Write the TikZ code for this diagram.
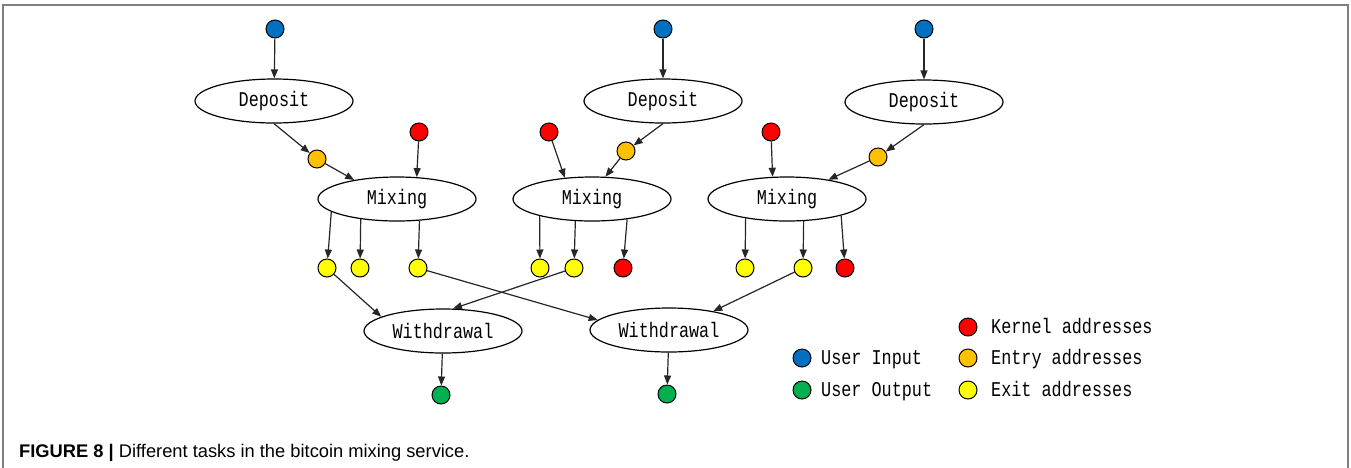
\documentclass[tikz,border=0pt]{standalone}
\usepackage{fontspec}
\setmainfont{Liberation Sans}
\newfontfamily\monofnt[FakeStretch=0.8]{Liberation Mono}
\usetikzlibrary{shapes.geometric,arrows.meta}
\definecolor{cblue}{HTML}{0070C0}
\definecolor{corange}{HTML}{FFC000}
\definecolor{cred}{HTML}{FF0000}
\definecolor{cyellow}{HTML}{FFFF00}
\definecolor{cgreen}{HTML}{00B050}
\definecolor{frame}{HTML}{7F7F7F}
\begin{document}
\begin{tikzpicture}[x=1pt,y=-1pt,
  dot/.style={circle,draw=black,line width=1pt,minimum size=18pt,inner sep=0pt},
  bluedot/.style={dot,fill=cblue},
  orangedot/.style={dot,fill=corange},
  reddot/.style={dot,fill=cred},
  yellowdot/.style={dot,fill=cyellow},
  greendot/.style={dot,fill=cgreen},
  task/.style={ellipse,draw=black,line width=1.2pt,minimum width=158pt,minimum height=44pt,inner sep=0pt,font=\monofnt\fontsize{21}{24}\selectfont},
  arr/.style={line width=1.2pt,draw=black!85,-{Triangle[length=9pt,width=7pt]}},
  lab/.style={anchor=base west,inner sep=0pt,font=\monofnt\fontsize{21}{24}\selectfont}
]
\useasboundingbox (0,0) rectangle (1351,467);
\draw[frame,line width=2pt] (3,468) -- (3,5) -- (1348,5) -- (1348,468);

% inputs
\node[bluedot] (u1) at (275,29) {};
\node[bluedot] (u2) at (663,29) {};
\node[bluedot] (u3) at (924,29) {};
% deposits
\node[task] (d1) at (274,101) {Deposit};
\node[task] (d2) at (663,101) {Deposit};
\node[task] (d3) at (924,102) {Deposit};
% entry
\node[orangedot] (o1) at (317,159) {};
\node[orangedot] (o2) at (626,151) {};
\node[orangedot] (o3) at (878,157) {};
% kernel
\node[reddot] (k1) at (419,132) {};
\node[reddot] (k2) at (549,132) {};
\node[reddot] (k3) at (771,132) {};
% mixing
\node[task] (m1) at (397,199) {Mixing};
\node[task] (m2) at (592,199) {Mixing};
\node[task] (m3) at (787,199) {Mixing};
% outputs of mixing
\node[yellowdot] (y11) at (327,268) {};
\node[yellowdot] (y12) at (360,268) {};
\node[yellowdot] (y13) at (418,268) {};
\node[yellowdot] (y21) at (540,268) {};
\node[yellowdot] (y22) at (574,268) {};
\node[reddot] (r21) at (623,268) {};
\node[yellowdot] (y31) at (745,268) {};
\node[yellowdot] (y32) at (803,268) {};
\node[reddot] (r31) at (845,268) {};
% withdrawals
\node[task] (w1) at (443,331) {Withdrawal};
\node[task] (w2) at (669,330) {Withdrawal};
\node[greendot] (g1) at (441,395) {};
\node[greendot] (g2) at (667,394) {};

% edges
\draw[arr] (u1) -- (d1);
\draw[arr] (u2) -- (d2);
\draw[arr] (u3) -- (d3);
\draw[arr] (d1.south) -- (o1);
\draw[arr] (d2.south) -- (o2);
\draw[arr] (d3.south) -- (o3);
\draw[arr] (o1) -- (m1.156);
\draw[arr] (o2) -- (m2.59);
\draw[arr] (o3) -- (m3.25);
\draw[arr] (k1) -- (m1.48);
\draw[arr] (k2) -- (m2.142);
\draw[arr] (k3) -- (m3.123);
\draw[arr] (m1.191) -- (y11);
\draw[arr] (m1.209) -- (y12);
\draw[arr] (m1.316) -- (y13);
\draw[arr] (m2.198) -- (y21);
\draw[arr] (m2.233) -- (y22);
\draw[arr] (m2.330) -- (r21);
\draw[arr] (m3.205) -- (y31);
\draw[arr] (m3.307) -- (y32);
\draw[arr] (m3.343) -- (r31);
\draw[arr] (y11) -- (w1.167);
\draw[arr] (y22) -- (w1.66);
\draw[arr] (y13) -- (w2.172);
\draw[arr] (y32) -- (w2.23);
\draw[arr] (w1) -- (g1);
\draw[arr] (w2) -- (g2);

% legend
\node[reddot] (lk) at (968,327) {};
\node[orangedot] (le) at (968,358) {};
\node[yellowdot] (lx) at (968,390) {};
\node[bluedot] (li) at (802,358) {};
\node[greendot] (lo) at (802,390) {};
\node[lab] (lkt) at (991,333) {Kernel addresses};
\node[lab] (let) at (991,364) {Entry addresses};
\node[lab] (lxt) at (991,396) {Exit addresses};
\node[lab] (lit) at (821,364) {User Input};
\node[lab] (lot) at (821,396) {User Output};

% caption
\node[anchor=base west,inner sep=0pt,font=\fontsize{18.3}{22}\selectfont] (cap) at (19,457) {\textbf{FIGURE 8 |} Different tasks in the bitcoin mixing service.};
\end{tikzpicture}
\end{document}
